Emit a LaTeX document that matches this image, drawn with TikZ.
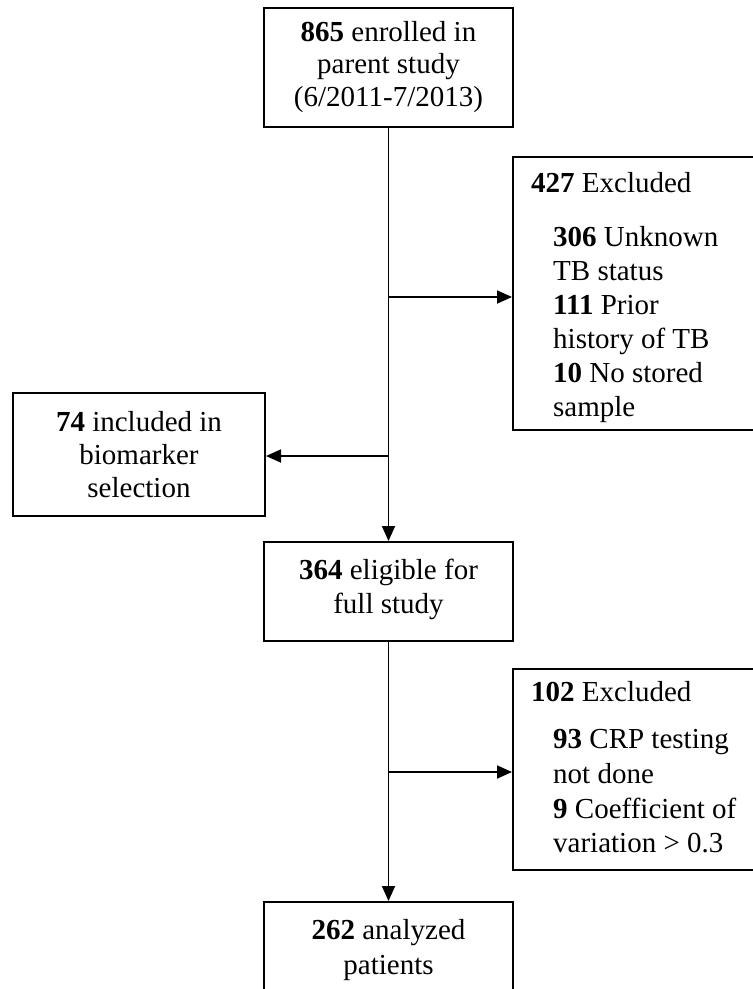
\documentclass[tikz,border=0pt]{standalone}
\usepackage{fontspec}
\setmainfont{Liberation Serif}
\usetikzlibrary{arrows.meta}
\begin{document}
\begin{tikzpicture}[x=1pt,y=-1pt,
  box/.style={draw,line width=2pt,rectangle,inner sep=0pt},
  ln/.style={inner sep=0pt,font=\fontsize{29}{33}\selectfont},
  arr/.style={line width=1.8pt,-{Triangle[length=15pt,width=13pt]}}]
\useasboundingbox (0,0) rectangle (753,989);
\clip (0,0) rectangle (753,989);
% boxes
\node[box,minimum width=249pt,minimum height=119pt] (top) at (388.5,67.5) {};
\node[box,minimum width=247pt,minimum height=273pt] (right1) at (636.5,293.5) {};
\node[box,minimum width=252pt,minimum height=123pt] (left) at (139,454.5) {};
\node[box,minimum width=249pt,minimum height=99pt] (mid) at (388.5,591.5) {};
\node[box,minimum width=247pt,minimum height=201pt] (right2) at (636.5,769.5) {};
\node[box,minimum width=249pt,minimum height=98pt] (bot) at (388.5,951) {};
% texts
\node[ln,anchor=base] (t1) at (388.5,41.5) {\textbf{865} enrolled in};
\node[ln,anchor=base] (t2) at (388.5,73.5) {parent study};
\node[ln,anchor=base] (t3) at (388.5,106) {(6/2011-7/2013)};
\node[ln,anchor=base west] (r1a) at (531,192.5) {\textbf{427} Excluded};
\node[ln,anchor=base west] (r1b) at (553,246) {\textbf{306} Unknown};
\node[ln,anchor=base west] (r1c) at (553,280) {TB status};
\node[ln,anchor=base west] (r1d) at (553,314) {\textbf{111} Prior};
\node[ln,anchor=base west] (r1e) at (553,348) {history of TB};
\node[ln,anchor=base west] (r1f) at (553,382) {\textbf{10} No stored};
\node[ln,anchor=base west] (r1g) at (553,416) {sample};
\node[ln,anchor=base] (l1) at (139,431.5) {\textbf{74} included in};
\node[ln,anchor=base] (l2) at (139,464.5) {biomarker};
\node[ln,anchor=base] (l3) at (139,497.5) {selection};
\node[ln,anchor=base] (m1) at (388.5,579) {\textbf{364} eligible for};
\node[ln,anchor=base] (m2) at (388.5,613) {full study};
\node[ln,anchor=base west] (r2a) at (531,701.5) {\textbf{102} Excluded};
\node[ln,anchor=base west] (r2b) at (553,748.5) {\textbf{93} CRP testing};
\node[ln,anchor=base west] (r2c) at (553,783) {not done};
\node[ln,anchor=base west] (r2d) at (553,818) {\textbf{9} Coefficient of};
\node[ln,anchor=base west] (r2e) at (553,852) {variation > 0.3};
\node[ln,anchor=base] (b1) at (388.5,939.5) {\textbf{262} analyzed};
\node[ln,anchor=base] (b2) at (388.5,974) {patients};
% connectors
\coordinate (j1) at (388.5,297);
\coordinate (j2) at (388.5,456);
\coordinate (j3) at (388.5,772);
\draw[arr] (top.south) -- (mid.north);
\draw[arr] (j1) -- (j1 -| right1.west);
\draw[arr] (j2) -- (j2 -| left.east);
\draw[arr] (mid.south) -- (bot.north);
\draw[arr] (j3) -- (j3 -| right2.west);
\end{tikzpicture}
\end{document}
